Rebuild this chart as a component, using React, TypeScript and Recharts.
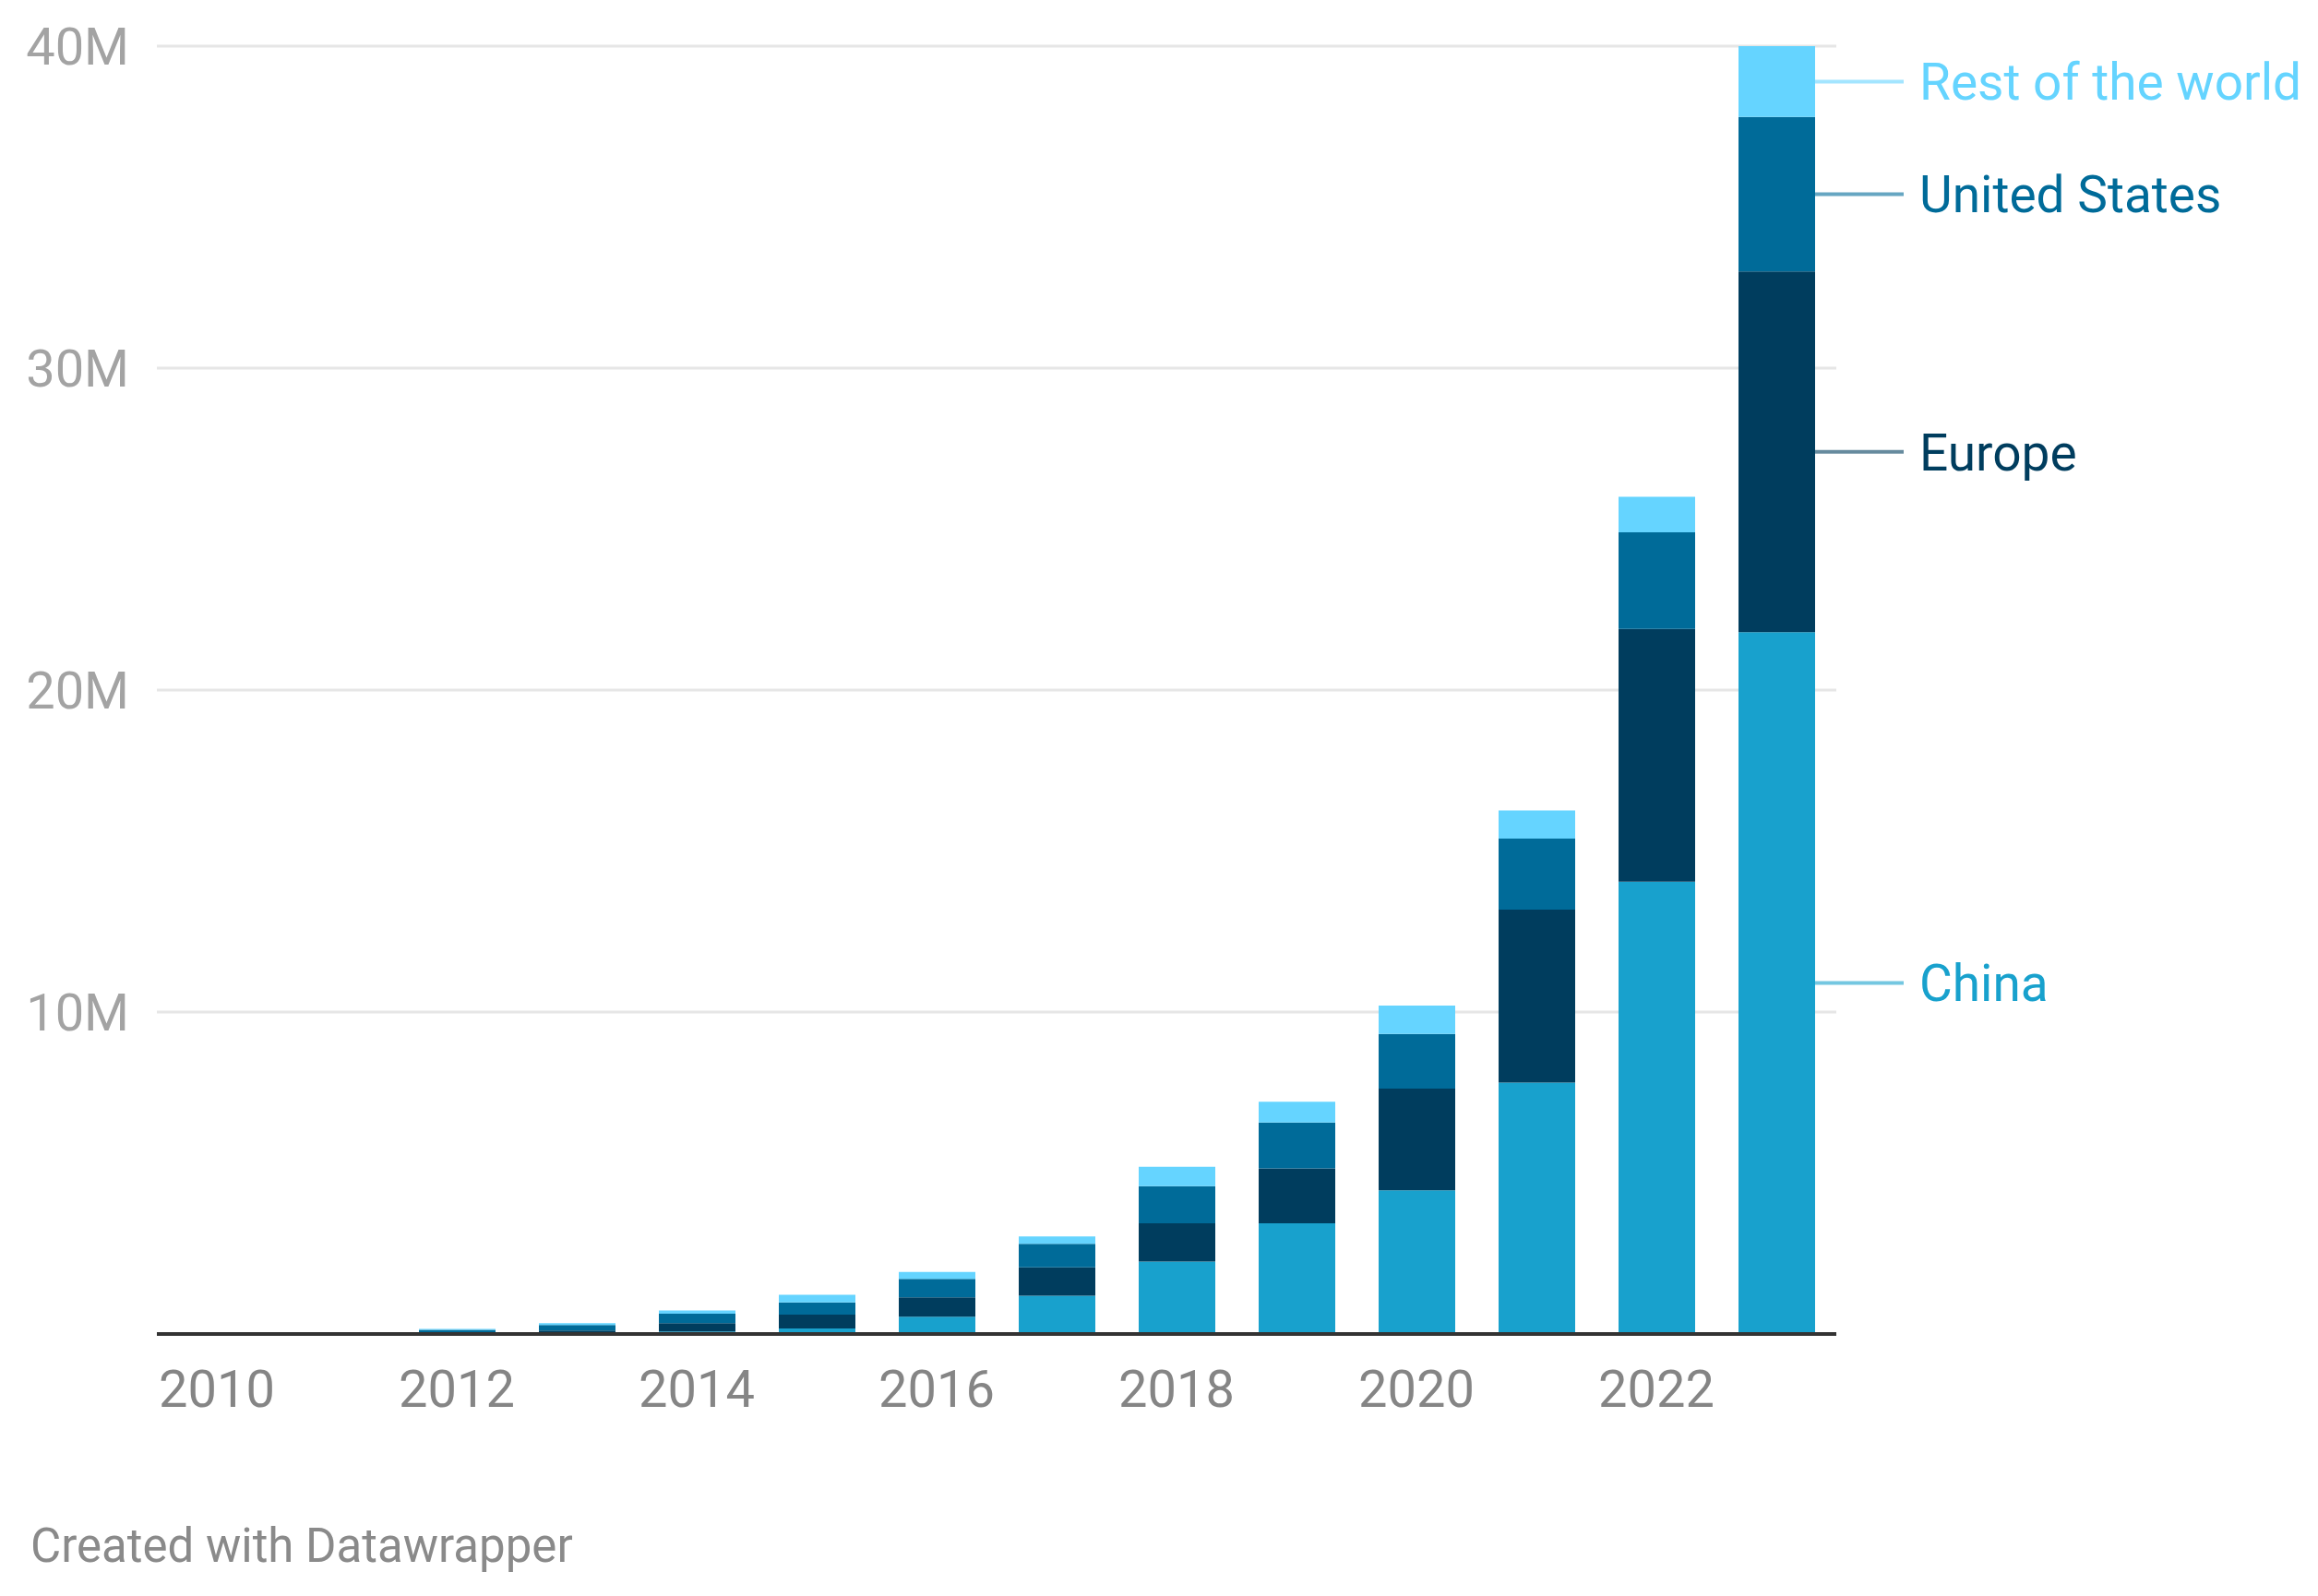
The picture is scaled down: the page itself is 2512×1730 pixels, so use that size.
import { Bar, BarChart, CartesianGrid, LabelList, XAxis, YAxis } from "recharts"

// Cumulative EV stock by region, millions
const YEARS = [
  "2010", "2011", "2012", "2013", "2014", "2015", "2016",
  "2017", "2018", "2019", "2020", "2021", "2022", "2023",
]
const CHINA = [0.0, 0.01, 0.02, 0.03, 0.08, 0.17, 0.54, 1.19, 2.25, 3.44, 4.46, 7.81, 14.05, 21.8]
const EUROPE = [0.01, 0.02, 0.03, 0.08, 0.26, 0.43, 0.6, 0.88, 1.19, 1.7, 3.16, 5.37, 7.85, 11.2]
const US = [0.01, 0.02, 0.08, 0.17, 0.29, 0.38, 0.57, 0.73, 1.15, 1.43, 1.7, 2.21, 3.0, 4.8]
const REST = [0.0, 0.01, 0.03, 0.06, 0.1, 0.24, 0.22, 0.23, 0.6, 0.64, 0.88, 0.87, 1.1, 2.2]
const Y_TICKS = [0, 10, 20, 30, 40]

const SERIES = [
  { key: "china", name: "China", color: "#18a1cd" },
  { key: "europe", name: "Europe", color: "#003d5e" },
  { key: "us", name: "United States", color: "#006b99" },
  { key: "rest", name: "Rest of the world", color: "#65d4ff" },
]

const data = YEARS.map((year, i) => ({
  year,
  china: CHINA[i],
  europe: EUROPE[i],
  us: US[i],
  rest: REST[i],
}))

const FONT = "Roboto, 'Noto Sans', sans-serif"
const LAST_YEAR = YEARS[YEARS.length - 1]

function XTick({ x, y, payload }: any) {
  return (
    <text x={x} y={y} dy={73} textAnchor="middle" fill="#858585" fontSize={56} fontFamily={FONT}>
      {payload.value}
    </text>
  )
}

function YTick({ x, y, payload }: any) {
  if (payload.value === 0) return null
  return (
    <text x={x - 22} y={y} dy="0.36em" textAnchor="end" fill="#a3a3a3" fontSize={56} fontFamily={FONT}>
      {`${payload.value}M`}
    </text>
  )
}

// line + name next to the last bar, at the middle of its segment
function endLabel(name: string, color: string) {
  return (props: any) => {
    const { x, y, width, height, value } = props
    if (value !== LAST_YEAR) return null
    const right = Number(x) + Number(width)
    const mid = Number(y) + Number(height) / 2
    return (
      <g>
        <line x1={right} x2={right + 96} y1={mid} y2={mid} stroke={color} strokeOpacity={0.6} strokeWidth={4} />
        <text x={right + 113} y={mid} dy="0.36em" fill={color} fontSize={55} fontFamily={FONT}>
          {name}
        </text>
      </g>
    )
  }
}

export default function App() {
  return (
    <div style={{ position: "relative", width: 2512, height: 1730, background: "#fff" }}>
      <style>{`body { margin: 0; }`}</style>
      <BarChart
        width={2512}
        height={1730}
        data={data}
        margin={{ top: 50, right: 522, bottom: 0, left: 0 }}
        barSize={83}
      >
        <CartesianGrid vertical={false} stroke="#e6e6e6" strokeWidth={3} />
        <XAxis
          dataKey="year"
          height={284}
          interval={1}
          tickLine={false}
          tickMargin={0}
          axisLine={{ stroke: "#333", strokeWidth: 4 }}
          tick={<XTick />}
        />
        <YAxis
          width={170}
          domain={[0, 40]}
          ticks={Y_TICKS}
          tickLine={false}
          axisLine={false}
          tick={<YTick />}
        />
        {SERIES.map((s) => (
          <Bar key={s.key} dataKey={s.key} stackId="a" fill={s.color} isAnimationActive={false}>
            <LabelList dataKey="year" content={endLabel(s.name, s.color)} />
          </Bar>
        ))}
      </BarChart>
      <div
        style={{
          position: "absolute",
          left: 33,
          top: 1650,
          fontFamily: FONT,
          fontSize: 51,
          lineHeight: 1,
          color: "#8a8a8a",
        }}
      >
        Created with Datawrapper
      </div>
    </div>
  )
}
